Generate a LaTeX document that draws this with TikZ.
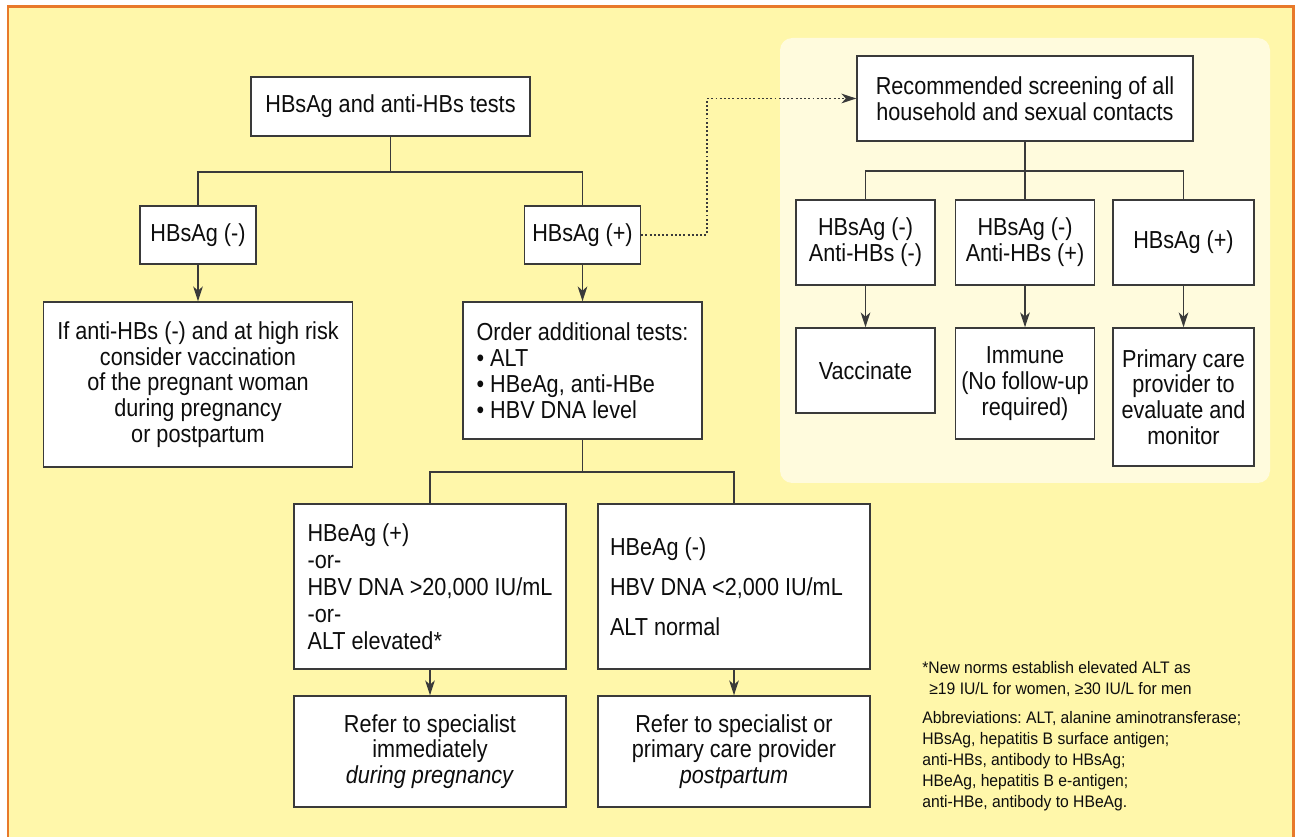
\documentclass[tikz,border=0pt]{standalone}
\usepackage{fontspec}
\setmainfont{Liberation Sans}[FakeStretch=0.88]
\newfontfamily\notefont{Liberation Sans}[FakeStretch=0.94]
\usetikzlibrary{arrows.meta}
\frenchspacing

\definecolor{pageyellow}{HTML}{FFF7AA}
\definecolor{panelyellow}{HTML}{FFFBDD}
\definecolor{frameorange}{HTML}{E8792A}
\definecolor{inkgrey}{HTML}{3A3A3A}

\tikzset{
  box/.style={draw=inkgrey, line width=0.8pt, fill=white, text=black!95, inner sep=2pt, align=center, font=\fontsize{14pt}{14.7pt}\selectfont},
  leftbox/.style={box, align=flush left, inner xsep=0.24cm},
  link/.style={draw=inkgrey, line width=0.8pt},
  arr/.style={link, -{Stealth[length=8.5pt, width=5.5pt, inset=2.5pt]}},
  dotarr/.style={arr, dash pattern=on 1.1pt off 1.3pt},
  note/.style={align=left, inner sep=0pt, text=black!95, font=\notefont\fontsize{9.5pt}{11.9pt}\selectfont}
}

\begin{document}
\begin{tikzpicture}[x=0.02cm, y=-0.02cm]
                            \useasboundingbox (0,0) rectangle (1299,837);
                            \fill[white] (0,0) rectangle (1299,837);
                            \draw[draw=frameorange, line width=1.7pt, fill=pageyellow] (8,7) rectangle (1293,860);
                            \fill[panelyellow, rounded corners=7pt] (780,38) rectangle (1270,483);

                            \node (top)[box, minimum width=5.58cm, minimum height=1.18cm] at (390.5, 106.5) {HBsAg and anti-HBs tests};
                            \node (neg)[box, minimum width=2.32cm, minimum height=1.16cm] at (198, 235) {HBsAg (-)};
                            \node (pos)[box, minimum width=2.32cm, minimum height=1.16cm] at (582.5, 235) {HBsAg (+)};

                            \node (vacc)[box, minimum width=6.18cm, minimum height=3.3cm] at (198, 384.5) {If anti-HBs (-) and at high risk\\consider vaccination\\of the pregnant woman\\during pregnancy\\or postpartum};
                            \node (order)[leftbox, minimum width=4.78cm, minimum height=2.74cm] at (582.5, 370.5) {Order additional tests:\\• ALT\\• HBeAg, anti-HBe\\• HBV DNA level};

                            \node (eplus)[leftbox, minimum width=5.44cm, minimum height=3.3cm] at (430, 586.5) {HBeAg (+)\\[0.6pt]-or-\\[0.6pt]HBV DNA >20,000 IU/mL\\[0.6pt]-or-\\[0.6pt]ALT elevated*};
                            \node (eminus)[leftbox, text width=4.96cm, minimum height=3.3cm] at (734, 586.5) {HBeAg (-)\\[8pt]HBV DNA <2,000 IU/mL\\[8pt]ALT normal};

                            \node (refer1)[box, minimum width=5.44cm, minimum height=2.22cm] at (430, 751.5) {Refer to specialist\\immediately\\\textit{during pregnancy}};
                            \node (refer2)[box, minimum width=5.44cm, minimum height=2.22cm] at (734, 751.5) {Refer to specialist or\\primary care provider\\\textit{postpartum}};

                            \node (screen)[box, minimum width=6.72cm, minimum height=1.7cm] at (1025, 98.5) {Recommended screening of all\\household and sexual contacts};
                            \node (s1)[box, minimum width=2.78cm, minimum height=1.7cm] at (865.5, 242.5) {HBsAg (-)\\Anti-HBs (-)};
                            \node (s2)[box, minimum width=2.78cm, minimum height=1.7cm] at (1025, 242.5) {HBsAg (-)\\Anti-HBs (+)};
                            \node (s3)[box, minimum width=2.82cm, minimum height=1.7cm] at (1183.5, 242.5) {HBsAg (+)};
                            \node (r1)[box, minimum width=2.78cm, minimum height=1.7cm] at (865.5, 370.5) {Vaccinate};
                            \node (r2)[box, inner xsep=1pt, minimum width=2.78cm, minimum height=2.22cm] at (1025, 383.5) {Immune\\(No follow-up\\required)};
                            \node (r3)[box, inner xsep=1pt, minimum width=2.82cm, minimum height=2.76cm] at (1183.5, 397) {Primary care\\provider to\\evaluate and\\monitor};

                            \node (note1)[note, anchor=west] at (922, 679) {*New norms establish elevated ALT as\\\hspace*{4pt}≥19 IU/L for women, ≥30 IU/L for men};
                            \node (note2)[note, anchor=west] at (922, 761) {Abbreviations: ALT, alanine aminotransferase;\\HBsAg, hepatitis B surface antigen;\\anti-HBs, antibody to HBsAg;\\HBeAg, hepatitis B e-antigen;\\anti-HBe, antibody to HBeAg.};

                            \coordinate (j1) at (390.5, 172);
                            \coordinate (j2) at (582.5, 472);
                            \coordinate (j3) at (1025, 171);
                            \coordinate (dbend) at (707, 98.5);

                            \draw [link] (top) -- (j1);
                            \draw [link] (neg) |- (j1);
                            \draw [link] (pos) |- (j1);
                            \draw [arr] (neg) -- (vacc);
                            \draw [arr] (pos) -- (order);
                            \draw [link] (order) -- (j2);
                            \draw [link] (eplus) |- (j2);
                            \draw [link] (eminus) |- (j2);
                            \draw [arr] (eplus) -- (refer1);
                            \draw [arr] (eminus) -- (refer2);
                            \draw [dotarr] (pos) -| (dbend) -- (screen);
                            \draw [link] (screen) -- (j3);
                            \draw [link] (s1) |- (j3);
                            \draw [link] (s2) -- (j3);
                            \draw [link] (s3) |- (j3);
                            \draw [arr] (s1) -- (r1);
                            \draw [arr] (s2) -- (r2);
                            \draw [arr] (s3) -- (r3);
                        \end{tikzpicture}
\end{document}
